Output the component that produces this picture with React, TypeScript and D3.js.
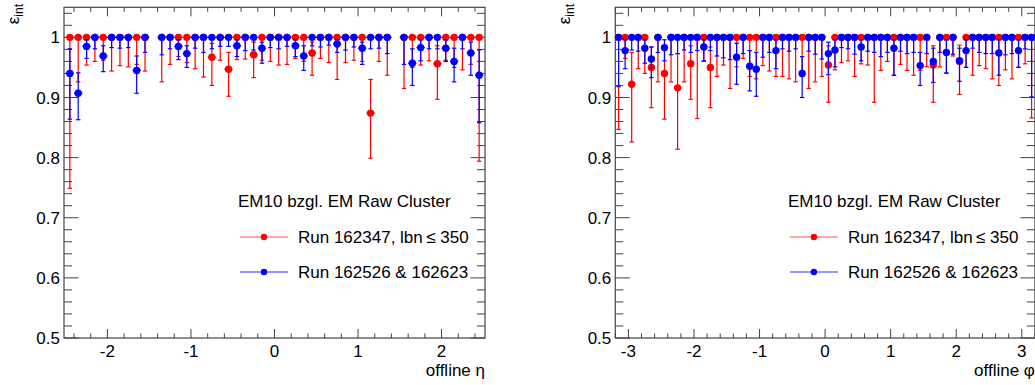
import React from 'react';
import * as d3 from 'd3';

// ---------- data ----------
// bin centres (the eta = ±1.45 crack bins are empty)
const etaCenters = [
  -2.45, -2.35, -2.25, -2.15, -2.05, -1.95, -1.85, -1.75, -1.65, -1.55,
  -1.35, -1.25, -1.15, -1.05, -0.95, -0.85, -0.75, -0.65, -0.55, -0.45, -0.35, -0.25, -0.15, -0.05,
  0.05, 0.15, 0.25, 0.35, 0.45, 0.55, 0.65, 0.75, 0.85, 0.95, 1.05, 1.15, 1.25, 1.35,
  1.55, 1.65, 1.75, 1.85, 1.95, 2.05, 2.15, 2.25, 2.35, 2.45,
];
const phiCenters = [
  -3.15, -3.05, -2.95, -2.85, -2.75, -2.65, -2.55, -2.45, -2.35, -2.25, -2.15, -2.05, -1.95, -1.85, -1.75, -1.65,
  -1.55, -1.45, -1.35, -1.25, -1.15, -1.05, -0.95, -0.85, -0.75, -0.65, -0.55, -0.45, -0.35, -0.25, -0.15, -0.05,
  0.05, 0.15, 0.25, 0.35, 0.45, 0.55, 0.65, 0.75, 0.85, 0.95, 1.05, 1.15, 1.25, 1.35, 1.45, 1.55,
  1.65, 1.75, 1.85, 1.95, 2.05, 2.15, 2.25, 2.35, 2.45, 2.55, 2.65, 2.75, 2.85, 2.95, 3.05, 3.15,
];

// [efficiency, lower edge, upper edge]
const etaRun162347 = [
  [1, .749, 1], [1, .926, 1], [1, .954, 1], [1, .960, 1], [1, .962, 1], [1, .944, 1], [1, .953, 1], [1, .951, 1], [1, .955, 1], [1, .944, 1],
  [1, .926, 1], [1, .955, 1], [1, .968, 1], [1, .958, 1], [1, .948, 1], [1, .934, 1], [.967, .920, .990], [1, .962, 1], [.947, .902, .975], [1, .963, 1], [1, .964, 1], [.971, .933, .992], [1, .962, 1], [1, .960, 1],
  [1, .954, 1], [1, .955, 1], [1, .965, 1], [1, .960, 1], [.974, .937, .992], [1, .965, 1], [1, .958, 1], [1, .930, 1], [1, .958, 1], [1, .962, 1], [1, .960, 1], [.874, .799, .930], [1, .960, 1], [1, .937, 1],
  [1, .915, 1], [1, .950, 1], [1, .954, 1], [1, .961, 1], [.956, .897, .986], [1, .962, 1], [1, .950, 1], [1, .946, 1], [1, .955, 1], [1, .794, 1],
];
const etaRun162526 = [
  [.940, .864, .981], [.907, .863, .941], [.985, .965, .996], [1, .981, 1], [.969, .943, .986], [1, .983, 1], [1, .982, 1], [1, .983, 1], [.945, .907, .969], [1, .975, 1],
  [1, .971, 1], [1, .981, 1], [.985, .963, .996], [.973, .950, .986], [1, .982, 1], [1, .975, 1], [1, .981, 1], [1, .985, 1], [1, .985, 1], [.986, .968, .996], [1, .978, 1], [1, .979, 1], [.982, .957, .992], [1, .983, 1],
  [1, .981, 1], [1, .985, 1], [.986, .968, .996], [.969, .945, .986], [1, .986, 1], [1, .984, 1], [1, .987, 1], [.989, .975, .996], [1, .979, 1], [1, .984, 1], [.982, .955, .992], [1, .981, 1], [1, .982, 1], [1, .973, 1],
  [1, .955, 1], [.957, .920, .981], [.983, .961, .996], [1, .981, 1], [1, .981, 1], [.982, .960, .996], [.960, .926, .982], [1, .981, 1], [.974, .937, .992], [.937, .858, .979],
];
const phiRun162347 = [
  [1, .847, 1], [1, .965, 1], [.922, .826, .975], [1, .948, 1], [1, .940, 1], [.950, .883, .984], [1, .926, 1], [.940, .864, .986],
  [1, .926, 1], [.916, .814, .973], [1, .926, 1], [.956, .897, .986], [1, .865, 1], [1, .960, 1], [.950, .883, .984], [1, .935, 1],
  [1, .954, 1], [1, .915, 1], [1, .951, 1], [1, .965, 1], [1, .935, 1], [1, .931, 1], [1, .953, 1], [1, .944, 1],
  [1, .935, 1], [1, .935, 1], [1, .931, 1], [1, .926, 1], [1, .935, 1], [1, .915, 1], [1, .926, 1], [1, .935, 1],
  [.954, .892, .986], [1, .946, 1], [1, .958, 1], [1, .961, 1], [1, .935, 1], [1, .956, 1], [1, .954, 1], [1, .892, 1],
  [1, .945, 1], [1, .960, 1], [1, .937, 1], [1, .955, 1], [1, .945, 1], [1, .937, 1], [1, .945, 1], [1, .951, 1],
  [.954, .892, .986], [1, .951, 1], [1, .940, 1], [1, .969, 1], [.960, .905, .987], [1, .950, 1], [1, .937, 1], [1, .953, 1],
  [1, .948, 1], [1, .931, 1], [1, .920, 1], [1, .946, 1], [1, .931, 1], [1, .950, 1], [1, .956, 1], [1, .866, 1],
];
const phiRun162526 = [
  [1, .918, 1], [.978, .948, .996], [1, .979, 1], [1, .977, 1], [.982, .957, .996], [.964, .933, .984], [1, .975, 1], [.983, .961, .996],
  [1, .971, 1], [1, .973, 1], [1, .979, 1], [1, .975, 1], [1, .978, 1], [.984, .961, .996], [1, .978, 1], [1, .969, 1],
  [1, .966, 1], [1, .963, 1], [.967, .922, .990], [1, .973, 1], [.952, .911, .978], [.947, .902, .975], [1, .967, 1], [1, .975, 1],
  [.978, .948, .996], [1, .981, 1], [1, .977, 1], [1, .981, 1], [.940, .900, .968], [1, .977, 1], [1, .972, 1], [1, .964, 1],
  [.973, .938, .992], [.979, .951, .996], [1, .983, 1], [1, .981, 1], [1, .972, 1], [.984, .961, .996], [1, .977, 1], [1, .975, 1],
  [1, .968, 1], [1, .975, 1], [.982, .937, .996], [1, .977, 1], [1, .973, 1], [1, .975, 1], [.953, .920, .975], [1, .973, 1],
  [.960, .925, .982], [1, .975, 1], [.975, .941, .996], [1, .972, 1], [.961, .927, .982], [.978, .950, .996], [1, .982, 1], [1, .975, 1],
  [1, .973, 1], [1, .973, 1], [.974, .937, .996], [1, .971, 1], [1, .973, 1], [.978, .950, .996], [1, .981, 1], [1, .901, 1],
];

const yTickLabels = ['0.5', '0.6', '0.7', '0.8', '0.9', '1'];
const etaTickLabels = ['-2', '-1', '0', '1', '2'];
const phiTickLabels = ['-3', '-2', '-1', '0', '1', '2', '3'];
const legendHeader = 'EM10 bzgl. EM Raw Cluster';
const seriesNames = ['Run 162347, lbn\u2009\u2264 350', 'Run 162526 & 162623'];

// ---------- drawing ----------
const FONT = 'Liberation Sans, Arial, Helvetica, sans-serif';
const RED = '#ff0000';
const BLUE = '#0000ff';
const AX = '#444';
const Y_TOP = 7.3;
const Y_BOT = 338;

type Pt = number[];

function Series({ centers, data, x, y, half, color }: any) {
  return (
    <g>
      {centers.map((c: number, i: number) => {
        const [v, lo, hi] = data[i] as Pt;
        const cx = x(c);
        const cy = y(v);
        return (
          <g key={i}>
            <line x1={cx} x2={cx} y1={y(lo)} y2={y(hi)} stroke={color} strokeWidth={1.2} />
            {lo < v && <line x1={cx - 2.2} x2={cx + 2.2} y1={y(lo)} y2={y(lo)} stroke={color} strokeWidth={1.2} />}
            {hi > v && <line x1={cx - 2.2} x2={cx + 2.2} y1={y(hi)} y2={y(hi)} stroke={color} strokeWidth={1.2} />}
            <line x1={x(c - half)} x2={x(c + half)} y1={cy} y2={cy} stroke={color} strokeWidth={1.2} />
            <circle cx={cx} cy={cy} r={3.7} fill={color} />
          </g>
        );
      })}
    </g>
  );
}

function Panel({ x0, x1, domain, centers, red, blue, tickLabels, xTitle }: any) {
  const x = d3.scaleLinear().domain(domain).range([x0, x1]);
  const y = d3.scaleLinear().domain([0.5, 1.05]).range([Y_BOT, Y_TOP]);
  const minorX = d3
    .range(Math.ceil(domain[0] * 5 - 1e-6), Math.floor(domain[1] * 5 + 1e-6) + 1)
    .map((i) => i / 5);
  const minorY = d3.range(25, 53).map((i) => i / 50);
  const majorY = yTickLabels.map(Number);
  const majorX = tickLabels.map(Number);
  const isMajorX = (t: number) => Math.abs(t - Math.round(t)) < 1e-6;
  const isMajorY = (t: number) => Math.abs(t * 10 - Math.round(t * 10)) < 1e-6;
  const lx = x1 - 245;
  return (
    <g fontFamily={FONT}>
      {/* frame */}
      <rect x={x0} y={Y_TOP} width={x1 - x0} height={Y_BOT - Y_TOP} fill="none" stroke={AX} strokeWidth={1.2} />
      {/* x ticks bottom & top */}
      {minorX.map((t: number, i: number) => {
        const len = isMajorX(t) ? 9 : 4.5;
        return (
          <g key={'xt' + i}>
            <line x1={x(t)} x2={x(t)} y1={Y_BOT} y2={Y_BOT - len} stroke={AX} strokeWidth={1} />
            <line x1={x(t)} x2={x(t)} y1={Y_TOP} y2={Y_TOP + len} stroke={AX} strokeWidth={1} />
          </g>
        );
      })}
      {/* y ticks left & right */}
      {minorY.map((t: number, i: number) => {
        const len = isMajorY(t) ? 14.5 : 8;
        return (
          <g key={'yt' + i}>
            <line x1={x0} x2={x0 + len} y1={y(t)} y2={y(t)} stroke={AX} strokeWidth={1} />
            <line x1={x1} x2={x1 - len} y1={y(t)} y2={y(t)} stroke={AX} strokeWidth={1} />
          </g>
        );
      })}
      {majorY.map((t: number, i: number) => (
        <text key={'yl' + i} x={x0 - 4} y={y(t)} dy="0.36em" textAnchor="end" fontSize={17} fill="#000">
          {yTickLabels[i]}
        </text>
      ))}
      {majorX.map((t: number, i: number) => (
        <text key={'xl' + i} x={x(t)} y={356.5} textAnchor="middle" fontSize={17} fill="#000">
          {tickLabels[i]}
        </text>
      ))}
      {/* titles */}
      <text x={x1} y={376} textAnchor="end" fontSize={17} fill="#000">
        {xTitle}
      </text>
      <text transform={`translate(${x0 - 45.5},4) rotate(-90)`} textAnchor="end" fontSize={17} fill="#000">
        ε<tspan fontSize={12} dy={4.5}>int</tspan>
      </text>
      {/* data */}
      <Series centers={centers} data={red} x={x} y={y} half={0.05} color={RED} />
      <Series centers={centers} data={blue} x={x} y={y} half={0.05} color={BLUE} />
      {/* legend */}
      <text x={x1 - 247} y={206.5} fontSize={17} fill="#000">{legendHeader}</text>
      <line x1={lx} x2={lx + 48} y1={237} y2={237} stroke="#ff5555" strokeWidth={1.2} />
      <circle cx={lx + 24} cy={237} r={3.2} fill={RED} />
      <text x={x1 - 187} y={237} dy="0.36em" fontSize={17} fill="#000">{seriesNames[0]}</text>
      <line x1={lx} x2={lx + 48} y1={272} y2={272} stroke="#3333ff" strokeWidth={1.2} />
      <circle cx={lx + 24} cy={272} r={3.2} fill={BLUE} />
      <text x={x1 - 187} y={272} dy="0.36em" fontSize={17} fill="#000">{seriesNames[1]}</text>
    </g>
  );
}

export default function App() {
  return (
    <svg
      width={1035}
      height={385}
      viewBox="0 0 1035 385"
      style={{ position: 'absolute', left: 0, top: 0, background: '#fff', display: 'block' }}
    >
      <rect width={1035} height={385} fill="#fff" />
      <Panel
        x0={64}
        x1={485}
        domain={[-2.52, 2.52]}
        centers={etaCenters}
        red={etaRun162347}
        blue={etaRun162526}
        tickLabels={etaTickLabels}
        xTitle="offline η"
      />
      <Panel
        x0={615.3}
        x1={1034.9}
        domain={[-3.2, 3.2]}
        centers={phiCenters}
        red={phiRun162347}
        blue={phiRun162526}
        tickLabels={phiTickLabels}
        xTitle="offline φ"
      />
    </svg>
  );
}
